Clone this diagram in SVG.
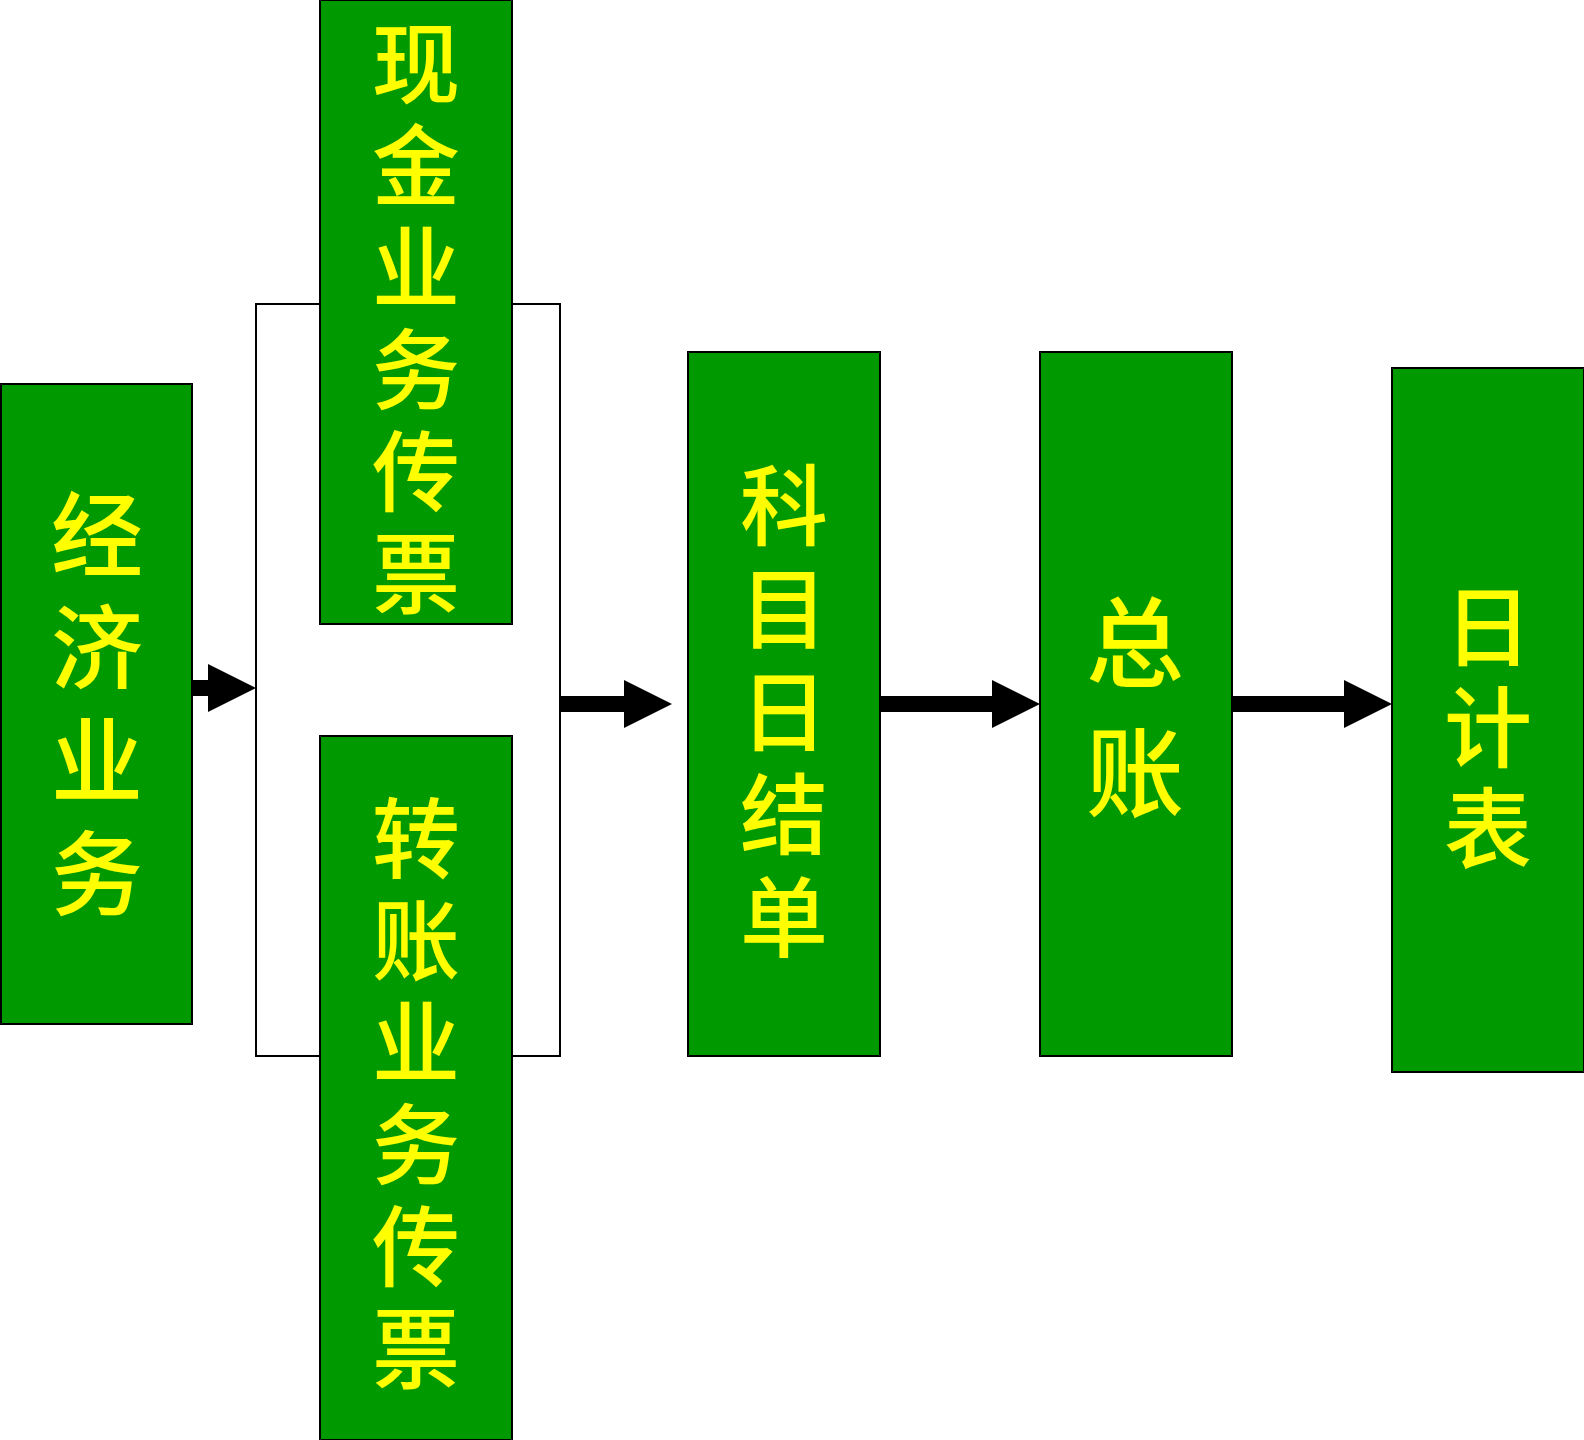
<svg xmlns="http://www.w3.org/2000/svg" width="1584" height="1440" viewBox="0 0 1584 1440">
<style>
.box{fill:#009900;stroke:#000;stroke-width:2}
.t{fill:#FFFF00;font-family:"Noto Sans CJK SC","Noto Sans CJK TC",sans-serif;font-weight:500;text-anchor:middle}
.ln{fill:none;stroke:#000;stroke-width:2}
.ar{fill:#000}
</style>
<rect width="1584" height="1440" fill="#fff"/>
<g id="connectors">
<path class="ln" d="M320 304H256V1056H320M512 304H560V1056H512"/>
<polygon class="ar" points="192,680 208,680 208,664 256,688 208,712 208,696 192,696"/>
<polygon class="ar" points="560,696 624,696 624,680 672,704 624,728 624,712 560,712"/>
<polygon class="ar" points="880,696 992,696 992,680 1040,704 992,728 992,712 880,712"/>
<polygon class="ar" points="1232,696 1344,696 1344,680 1392,704 1344,728 1344,712 1232,712"/>
</g>
<g id="n1">
<rect class="box" x="1" y="384" width="191" height="640"/>
<text class="t" font-size="92"><tspan x="97" y="569">经</tspan><tspan x="97" y="682">济</tspan><tspan x="97" y="795">业</tspan><tspan x="97" y="908">务</tspan></text>
</g>
<g id="n2">
<rect class="box" x="320" y="0" width="192" height="624"/>
<text class="t" font-size="88"><tspan x="416" y="96">现</tspan><tspan x="416" y="198">金</tspan><tspan x="416" y="300">业</tspan><tspan x="416" y="402">务</tspan><tspan x="416" y="504">传</tspan><tspan x="416" y="606">票</tspan></text>
</g>
<g id="n3">
<rect class="box" x="320" y="736" width="192" height="704"/>
<text class="t" font-size="88"><tspan x="416" y="871">转</tspan><tspan x="416" y="973">账</tspan><tspan x="416" y="1075">业</tspan><tspan x="416" y="1177">务</tspan><tspan x="416" y="1279">传</tspan><tspan x="416" y="1381">票</tspan></text>
</g>
<g id="n4">
<rect class="box" x="688" y="352" width="192" height="704"/>
<text class="t" font-size="88"><tspan x="784" y="538">科</tspan><tspan x="784" y="641">目</tspan><tspan x="784" y="744">日</tspan><tspan x="784" y="847">结</tspan><tspan x="784" y="950">单</tspan></text>
</g>
<g id="n5">
<rect class="box" x="1040" y="352" width="192" height="704"/>
<text class="t" font-size="98"><tspan x="1135" y="679">总</tspan><tspan x="1135" y="809">账</tspan></text>
</g>
<g id="n6">
<rect class="box" x="1392" y="368" width="192" height="704"/>
<text class="t" font-size="88"><tspan x="1488" y="659">日</tspan><tspan x="1488" y="760">计</tspan><tspan x="1488" y="861">表</tspan></text>
</g>
</svg>
